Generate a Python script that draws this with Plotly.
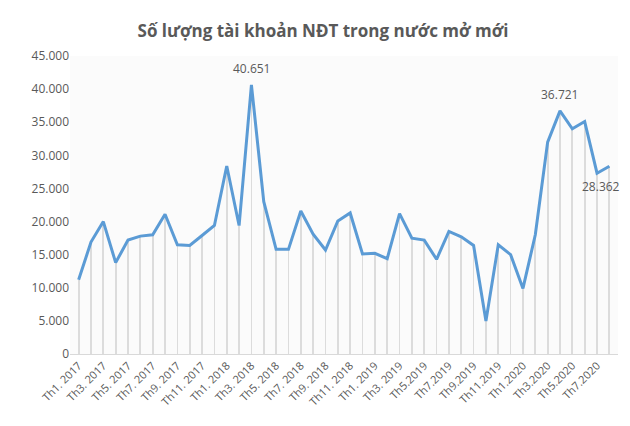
import plotly.graph_objects as go

months = []
for yr, n in [(2017, 12), (2018, 12), (2019, 12), (2020, 8)]:
    for m in range(1, n + 1):
        months.append(f"Th{m}.{yr}")

accounts = [11200, 16900, 20000, 13800, 17200, 17800, 18000, 21100, 16500, 16400, 17900, 19400,
            28400, 19400, 40651, 23000, 15800, 15800, 21600, 18100, 15700, 20100, 21300, 15100,
            15200, 14400, 21200, 17500, 17200, 14300, 18500, 17700, 16400, 5000, 16500, 15000,
            9900, 18000, 32000, 36721, 34000, 35100, 27300, 28362]

tick_labels = {"Th1.2017": "Th1. 2017", "Th3.2017": "Th3. 2017", "Th5.2017": "Th5. 2017",
               "Th7.2017": "Th7. 2017", "Th9.2017": "Th9. 2017", "Th11.2017": "Th11. 2017",
               "Th1.2018": "Th1. 2018", "Th3.2018": "Th3. 2018", "Th5.2018": "Th5. 2018",
               "Th7.2018": "Th7. 2018", "Th9.2018": "Th9. 2018", "Th11.2018": "Th11. 2018",
               "Th1.2019": "Th1. 2019", "Th3.2019": "Th3. 2019", "Th5.2019": "Th5.2019",
               "Th7.2019": "Th7.2019", "Th9.2019": "Th9.2019", "Th11.2019": "Th11.2019",
               "Th1.2020": "Th1.2020", "Th3.2020": "Th3.2020", "Th5.2020": "Th5.2020",
               "Th7.2020": "Th7.2020"}
labelled = {"Th3.2018": "40.651", "Th4.2020": "36.721", "Th8.2020": "28.362"}

fig = go.Figure()

# thin vertical drop lines under the curve
fig.add_trace(go.Bar(x=months, y=accounts, width=0.06,
                     marker=dict(color="#dcdcdc", line_width=0), hoverinfo="skip"))

fig.add_trace(go.Scatter(x=months, y=accounts, mode="lines",
                         line=dict(color="#5b9bd5", width=3)))

for k, txt in labelled.items():
    i = months.index(k)
    if k == "Th8.2020":
        fig.add_annotation(x=k, y=accounts[i], text=txt, showarrow=False, yshift=-20,
                           xshift=-8, font=dict(size=12, color="#595959"))
    else:
        fig.add_annotation(x=k, y=accounts[i], text=txt, showarrow=False, yshift=16,
                           font=dict(size=12, color="#595959"))

fig.update_layout(
    width=630, height=426, showlegend=False,
    paper_bgcolor="white", plot_bgcolor="#fbfbfb",
    margin=dict(l=62, r=20, t=48, b=80),
    font=dict(family="Open Sans, DejaVu Sans", color="#595959"),
    title=dict(text="<b>Số lượng tài khoản NĐT trong nước mở mới</b>", x=0.5, y=0.96,
               font=dict(size=17, color="#595959")),
    bargap=0, separators=",.",
)
fig.update_xaxes(tickmode="array", tickvals=list(tick_labels.keys()),
                 ticktext=list(tick_labels.values()), tickangle=-45,
                 tickfont=dict(size=11), showgrid=False, showline=True,
                 linecolor="#d9d9d9", range=[-0.7, len(months) - 0.3])
fig.update_yaxes(range=[0, 45000], dtick=5000, tickformat=",d", showgrid=False,
                 tickfont=dict(size=12), zeroline=False)

fig.write_html("out.html")
